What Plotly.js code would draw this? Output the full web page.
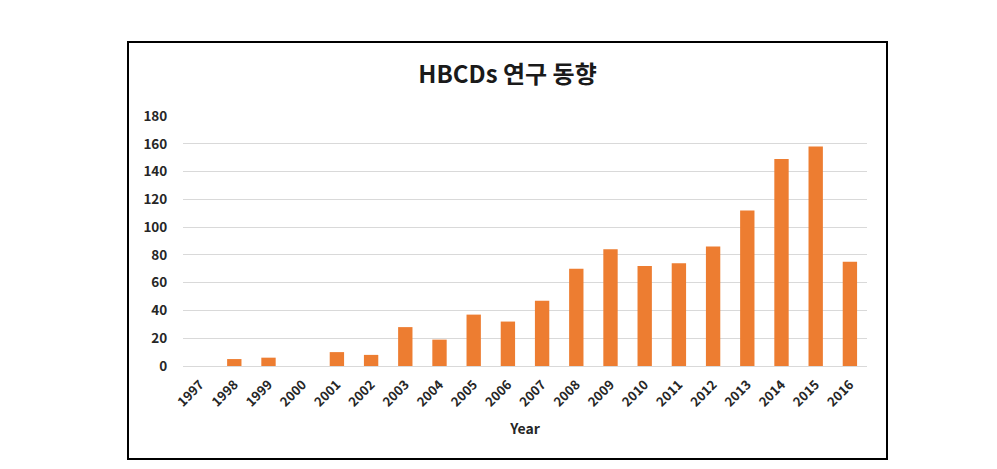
<!DOCTYPE html>
<html>
<head>
<meta charset="utf-8">
<script src="https://cdn.plot.ly/plotly-3.0.1.min.js"></script>
<style>
  html, body { margin: 0; padding: 0; background: #ffffff; width: 997px; height: 469px; overflow: hidden; }
  #frame { position: absolute; left: 127px; top: 41px; width: 761px; height: 419px; box-sizing: border-box; border: 2px solid #000000; background: #ffffff; }
  #chart { width: 757px; height: 415px; }
</style>
</head>
<body>
<div id="frame"><div id="chart"></div></div>
<script>
const years = ["1997","1998","1999","2000","2001","2002","2003","2004","2005","2006","2007","2008","2009","2010","2011","2012","2013","2014","2015","2016"];
const counts = [0, 5, 6, 0, 10, 8, 28, 19, 37, 32, 47, 70, 84, 72, 74, 86, 112, 149, 158, 75];
const yTicks = [0, 20, 40, 60, 80, 100, 120, 140, 160, 180];
const chartTitle = "HBCDs 연구 동향";
const xTitle = "Year";

const font = "'Noto Sans CJK KR', 'Noto Sans', sans-serif";

const trace = {
  type: 'bar',
  x: years,
  y: counts,
  marker: { color: '#ED7D31' },
  width: 0.42,
  hoverinfo: 'x+y'
};

const layout = {
  width: 757,
  height: 415,
  margin: { l: 54, r: 19, t: 73, b: 92 },
  paper_bgcolor: '#ffffff',
  plot_bgcolor: '#ffffff',
  showlegend: false,
  title: {
    text: '<b>' + chartTitle + '</b>',
    font: { family: font, size: 24, color: '#1a1a1a' },
    x: 0.5, xref: 'container', xanchor: 'center',
    y: 1 - 32 / 415, yref: 'container', yanchor: 'middle'
  },
  xaxis: {
    type: 'category',
    tickangle: -45,
    tickfont: { family: font, size: 13, color: '#262626', weight: 'bold' },
    ticks: 'outside', ticklen: 5, tickcolor: 'rgba(0,0,0,0)',
    showgrid: false,
    showline: true, linecolor: '#d9d9d9', linewidth: 1,
    zeroline: false,
    title: { text: '<b>' + xTitle + '</b>', font: { family: font, size: 14, color: '#262626' }, standoff: 14 }
  },
  yaxis: {
    range: [0, 180],
    tickvals: yTicks,
    ticktext: yTicks.map(String),
    tickfont: { family: font, size: 13.5, color: '#262626', weight: 'bold' },
    ticks: 'outside', ticklen: 12, tickcolor: 'rgba(0,0,0,0)',
    showgrid: true, gridcolor: '#d9d9d9', gridwidth: 1,
    zeroline: false,
    showline: false
  }
};

Plotly.newPlot('chart', [trace], layout, { displayModeBar: false, staticPlot: true });
</script>
</body>
</html>
